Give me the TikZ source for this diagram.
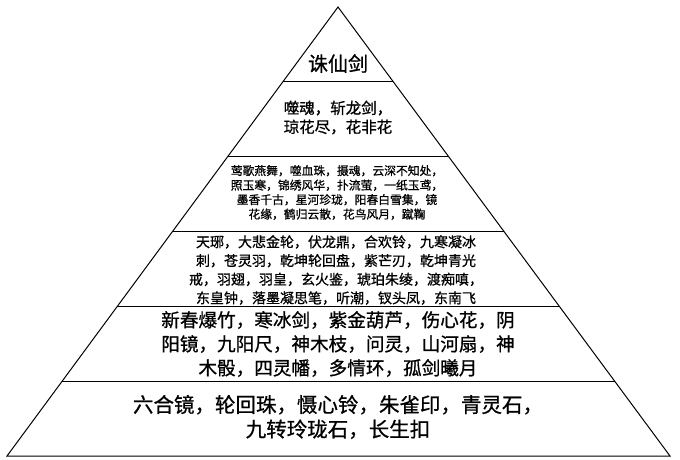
\documentclass[tikz,border=0pt]{standalone}
\usepackage{fontspec}
\setmainfont{Noto Sans CJK SC}[FakeBold=0.8]
\usetikzlibrary{calc}
\begin{document}
\begin{tikzpicture}[x=1pt,y=-1pt,
  tier/.style={align=center, inner sep=0pt, text=black},
  edge/.style={line width=1pt, draw=black}]
\useasboundingbox (0,0) rectangle (680,459);
\fill[white] (0,0) rectangle (680,459);
\coordinate (A) at (338,7);
\coordinate (L) at (7,456);
\coordinate (R) at (670,456);
\draw[edge, line join=miter] (A) -- (L) -- (R) -- cycle;
\foreach \k in {1,...,5}
  \draw[edge] ($(A)!\k/6!(L)$) -- ($(A)!\k/6!(R)$);
\node[tier, font=\fontsize{20}{24}\selectfont] (t1) at (338,63.5) {诛仙剑};
\node[tier, font=\fontsize{15.5}{19}\selectfont] (t2) at (338,117.5) {噬魂，斩龙剑，\\琼花尽，花非花};
\node[tier, font=\fontsize{11.8}{14.5}\selectfont] (t3) at (337,192.5) {莺歌燕舞，噬血珠，摄魂，云深不知处，\\照玉寒，锦绣风华，扑流萤，一纸玉鸢，\\墨香千古，星河珍珑，阳春白雪集，镜\\花缘，鹤归云散，花鸟风月，蹴鞠};
\node[tier, font=\fontsize{14}{18.7}\selectfont] (t4) at (336,270) {天琊，大悲金轮，伏龙鼎，合欢铃，九寒凝冰\\刺，苍灵羽，乾坤轮回盘，紫芒刃，乾坤青光\\戒，羽翅，羽皇，玄火鉴，琥珀朱绫，渡痴嗔，\\东皇钟，落墨凝思笔，听潮，钗头凤，东南飞};
\node[tier, font=\fontsize{18.6}{24}\selectfont] (t5) at (338,344) {新春爆竹，寒冰剑，紫金葫芦，伤心花，阴\\阳镜，九阳尺，神木枝，问灵，山河扇，神\\木骰，四灵幡，多情环，孤剑曦月};
\node[tier, font=\fontsize{20.5}{24.5}\selectfont] (t6) at (338,417) {六合镜，轮回珠，慑心铃，朱雀印，青灵石，\\九转玲珑石，长生扣};
\end{tikzpicture}
\end{document}
